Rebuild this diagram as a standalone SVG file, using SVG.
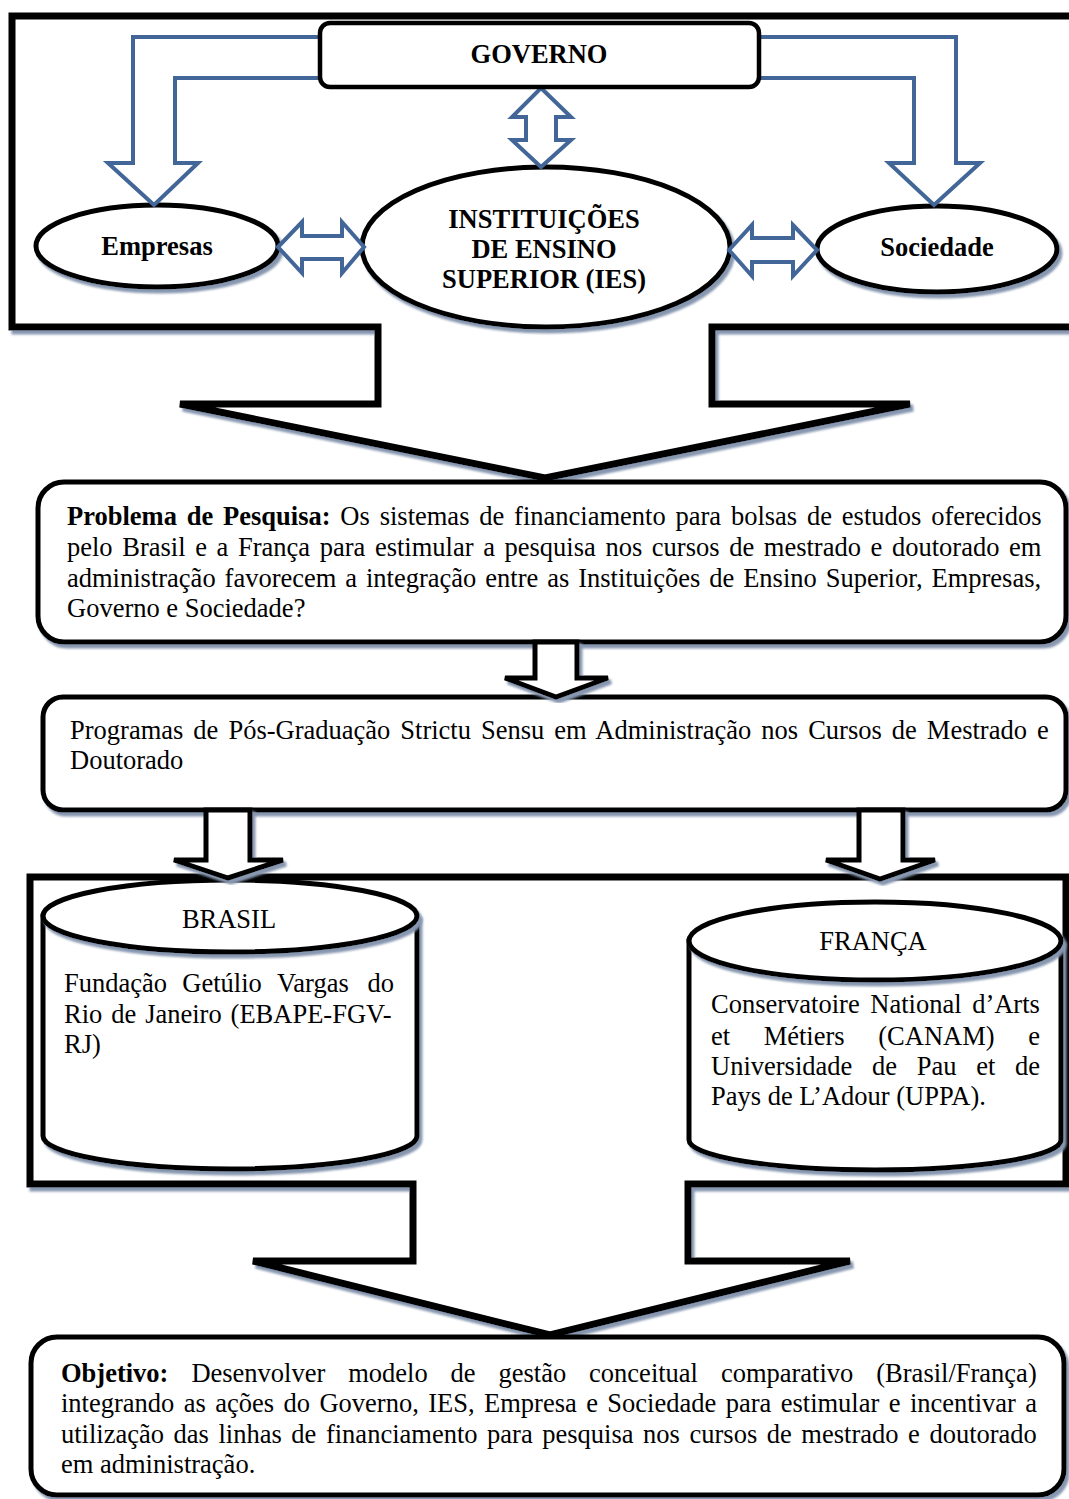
<svg xmlns="http://www.w3.org/2000/svg" width="1069" height="1499" viewBox="0 0 1069 1499">
  <defs>
    <filter id="sh" x="-5%" y="-5%" width="115%" height="115%">
      <feOffset in="SourceAlpha" dx="3" dy="4" result="o"/>
      <feGaussianBlur in="o" stdDeviation="0.8" result="b"/>
      <feFlood flood-color="#8797B0"/>
      <feComposite in2="b" operator="in"/>
      <feMerge><feMergeNode/><feMergeNode in="SourceGraphic"/></feMerge>
    </filter>
  </defs>
  <style>
    text { font-family: "Liberation Serif", "Times New Roman", serif; font-size: 26.5px; fill: #000; }
    .b { font-weight: bold; }
    .c { text-anchor: middle; }
    .frame { fill: #fff; stroke: #000; stroke-width: 7; stroke-linejoin: miter; filter: url(#sh); }
    .box { fill: #fff; stroke: #000; stroke-width: 5; filter: url(#sh); }
    .node { fill: #fff; stroke: #000; stroke-width: 5; filter: url(#sh); }
    .gov { fill: #fff; stroke: #000; stroke-width: 4.5; }
    .blue { fill: #fff; stroke: #426697; stroke-width: 4; stroke-linejoin: miter; }
    .blk { fill: #fff; stroke: #000; stroke-width: 5; stroke-linejoin: miter; filter: url(#sh); }
  </style>

  <!-- upper container drawn as a broad down-arrow -->
  <g id="frame-top">
    <path class="frame" d="M12,16 H1085 V327 H712 V404 H910 L545,478 L180,404 H378 V327 H12 Z"/>
  </g>

  <g id="empresas">
    <ellipse class="node" cx="157" cy="246" rx="121" ry="41"/>
    <text class="b c" x="157" y="255">Empresas</text>
  </g>
  <g id="ies">
    <ellipse class="node" cx="546" cy="247" rx="184" ry="80"/>
    <text class="b c" x="544" y="228">INSTITUIÇÕES</text>
    <text class="b c" x="544" y="258">DE ENSINO</text>
    <text class="b c" x="544" y="288">SUPERIOR (IES)</text>
  </g>
  <g id="sociedade">
    <ellipse class="node" cx="937" cy="249" rx="120" ry="43"/>
    <text class="b c" x="937" y="256">Sociedade</text>
  </g>

  <g id="connectors">
    <!-- governo to empresas / sociedade -->
    <path class="blue" d="M320,37 H133 V163 H108 L154,205 L198,163 H175 V78 H320 Z"/>
    <path class="blue" d="M759,37 H956 V163 H980 L934,205 L889,163 H914 V78 H759 Z"/>
    <!-- governo <-> ies -->
    <path class="blue" d="M541,88 L571,117 H556 V140 H571 L541,167 L512,140 H526 V117 H512 Z"/>
    <!-- empresas <-> ies -->
    <path class="blue" d="M278,247 L302,222 V236 H342 V222 L364,247 L342,273 V259 H302 V273 Z"/>
    <!-- ies <-> sociedade -->
    <path class="blue" d="M729,250 L752,225 V238 H793 V225 L817,250 L793,276 V262 H752 V276 Z"/>
  </g>

  <g id="governo">
    <rect class="gov" x="320" y="23" width="439" height="64" rx="10"/>
    <text class="b c" x="539" y="63">GOVERNO</text>
  </g>

  <g id="problema">
    <rect class="box" x="38" y="482" width="1028" height="160" rx="26"/>
    <text x="67" y="525" word-spacing="3.2"><tspan class="b">Problema de Pesquisa:</tspan> Os sistemas de financiamento para bolsas de estudos oferecidos</text>
    <text x="67" y="556" word-spacing="3.0">pelo Brasil e a França para estimular a pesquisa nos cursos de mestrado e doutorado em</text>
    <text x="67" y="587" word-spacing="2.3">administração favorecem a integração entre as Instituições de Ensino Superior, Empresas,</text>
    <text x="67" y="617">Governo e Sociedade?</text>
  </g>

  <g id="programas">
    <rect class="box" x="43" y="697" width="1023" height="113" rx="20"/>
    <text x="70" y="739" word-spacing="3.4">Programas de Pós-Graduação Strictu Sensu em Administração nos Cursos de Mestrado e</text>
    <text x="70" y="769">Doutorado</text>
  </g>

  <!-- lower container drawn as a broad down-arrow -->
  <g id="frame-bottom">
    <path class="frame" d="M30,877 H1066 V1184 H688 V1261 H850 L550,1335 L253,1261 H413 V1184 H30 Z"/>
  </g>

  <g id="brasil">
    <path class="node" d="M43,916 V1136 A187,33 0 0 0 417,1136 V916 Z"/>
    <ellipse class="node" cx="230" cy="916" rx="187" ry="36"/>
    <text class="c" x="229" y="928">BRASIL</text>
    <text y="992"><tspan x="64">Fundação</tspan><tspan x="182.3">Getúlio</tspan><tspan x="277.1">Vargas</tspan><tspan x="367.4">do</tspan></text>
    <text x="64" y="1023" word-spacing="2.3">Rio de Janeiro (EBAPE-FGV-</text>
    <text x="64" y="1053">RJ)</text>
  </g>

  <g id="franca">
    <path class="node" d="M689,941 V1140 A186,30 0 0 0 1061,1140 V941 Z"/>
    <ellipse class="node" cx="875" cy="941" rx="186" ry="39"/>
    <text class="c" x="873" y="950">FRANÇA</text>
    <text x="711" y="1013" word-spacing="4">Conservatoire National d’Arts</text>
    <text y="1045"><tspan x="711">et</tspan><tspan x="763.7">Métiers</tspan><tspan x="878.3">(CANAM)</tspan><tspan x="1028.2">e</tspan></text>
    <text y="1075"><tspan x="711">Universidade</tspan><tspan x="872">de</tspan><tspan x="916.7">Pau</tspan><tspan x="976.2">et</tspan><tspan x="1015">de</tspan></text>
    <text x="711" y="1105">Pays de L’Adour (UPPA).</text>
  </g>

  <g id="flow-arrows">
    <path class="blk" d="M535,642 V678 H505 L556,697 L608,678 H577 V642 Z"/>
    <path class="blk" d="M206,810 V860 H174 L228,878 L283,860 H250 V810 Z"/>
    <path class="blk" d="M859,810 V860 H826 L880,879 L935,860 H903 V810 Z"/>
  </g>

  <g id="objetivo">
    <rect class="box" x="31" y="1337" width="1033" height="158" rx="26"/>
    <text y="1382"><tspan class="b" x="61">Objetivo:</tspan><tspan x="191.4">Desenvolver</tspan><tspan x="348.2">modelo</tspan><tspan x="450.6">de</tspan><tspan x="498.5">gestão</tspan><tspan x="589.1">conceitual</tspan><tspan x="720.9">comparativo</tspan><tspan x="876.3">(Brasil/França)</tspan></text>
    <text x="61" y="1412" word-spacing="2.8">integrando as ações do Governo, IES, Empresa e Sociedade para estimular e incentivar a</text>
    <text x="61" y="1443" word-spacing="2.95">utilização das linhas de financiamento para pesquisa nos cursos de mestrado e doutorado</text>
    <text x="61" y="1473">em administração.</text>
  </g>
</svg>
